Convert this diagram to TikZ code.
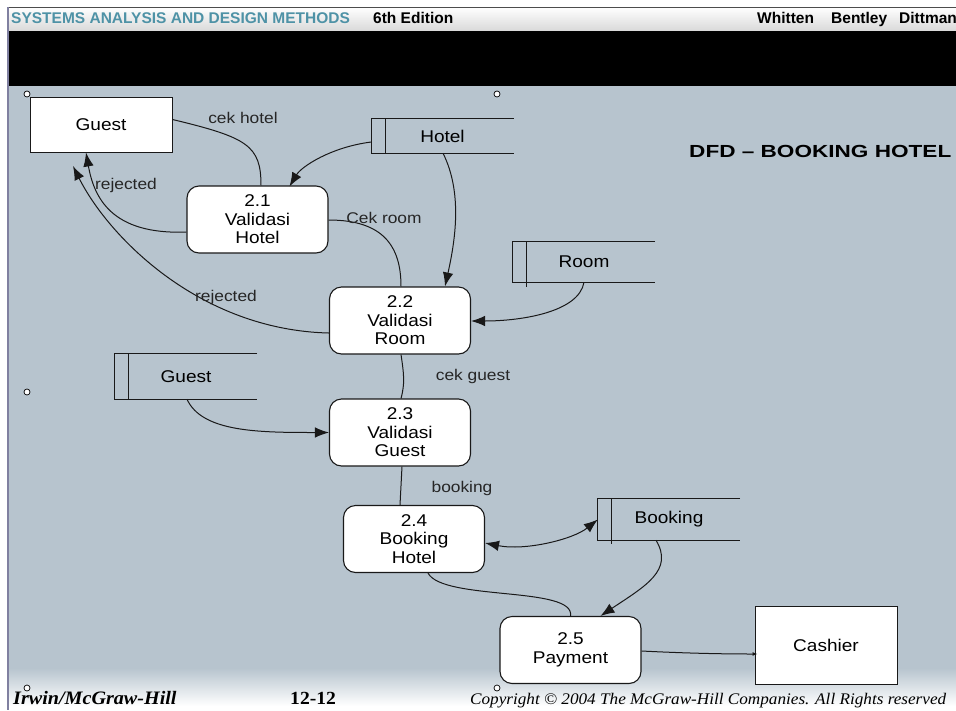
\documentclass[tikz,border=0pt]{standalone}
\usepackage{fontspec}
\setmainfont{Liberation Sans}
\newfontfamily\diagf[FakeStretch=1.12]{Liberation Sans}
\newfontfamily\titlef[FakeStretch=1.29]{Liberation Sans}
\newfontfamily\footf[FakeStretch=1.06]{Liberation Serif}
\usetikzlibrary{arrows.meta,calc}
\definecolor{slate}{RGB}{183,196,206}
\definecolor{tealhd}{RGB}{78,146,166}
\definecolor{edgec}{RGB}{25,25,25}
\definecolor{bordr}{RGB}{128,128,160}
\newcommand{\dstore}[2]{%
  \draw[edgec,line width=1pt] (#1.north east) -- (#1.north west) -- (#1.south west) -- (#1.south east);
  \draw[edgec,line width=1pt] ($(#1.north west)+(14,0)$) -- ($(#1.south west)+(14,#2)$);}
\begin{document}
\begin{tikzpicture}[x=1pt,y=-1pt,
  proc/.style={draw=edgec,line width=1.1pt,fill=white,rounded corners=12pt,minimum width=141pt,minimum height=67pt,align=center,inner sep=0pt,font=\diagf\fontsize{17}{18.5}\selectfont},
  ext/.style={draw=edgec,line width=1pt,fill=white,inner sep=0pt,font=\diagf\fontsize{17}{18.5}\selectfont},
  store/.style={inner sep=0pt,minimum width=142pt,font=\diagf\fontsize{17}{18.5}\selectfont},
  flow/.style={draw=edgec,line width=1pt},
  arr/.style={flow,-{Latex[length=14pt,width=10.5pt]}},
  lbl/.style={font=\diagf\fontsize{15.5}{16}\selectfont,text=black!85,inner sep=0pt},
  handle/.style={circle,draw=black,fill=white,line width=0.7pt,minimum size=6pt,inner sep=0pt},
  hdr/.style={anchor=base west,inner sep=0pt,font=\bfseries\fontsize{15.5}{16}\selectfont},
]
\useasboundingbox (0,0) rectangle (956,710);
\begin{scope}
\clip (0,0) rectangle (956,710);
% background
\fill[white] (0,0) rectangle (956,710);
\shade[top color=white,bottom color=black!15] (8,7) rectangle (956,31);
\fill[black] (8,31) rectangle (956,86);
\fill[slate] (8,86) rectangle (956,668);
\shade[top color=slate,bottom color=white] (8,668) rectangle (956,706);
\draw[black!70,line width=1pt] (8,7) -- (956,7);
\draw[bordr,line width=2pt] (8,7) -- (8,710);
% header
\node[hdr,text=tealhd] (h1) at (11,23) {SYSTEMS ANALYSIS AND DESIGN METHODS};
\node[hdr] (h2) at (373,23) {6th Edition};
\node[hdr] (h3) at (757,23) {Whitten};
\node[hdr] (h4) at (831,23) {Bentley};
\node[hdr] (h5) at (899,23) {Dittman};
% title
\node[anchor=base west,inner sep=0pt,font=\titlef\bfseries\fontsize{17.5}{18}\selectfont] (title) at (689,157) {DFD – BOOKING HOTEL};
% footer
\node[anchor=base west,inner sep=0pt,font=\footf\bfseries\itshape\fontsize{19}{20}\selectfont] (f1) at (13,704) {Irwin/McGraw-Hill};
\node[anchor=base west,inner sep=0pt,font=\footf\bfseries\fontsize{18.5}{20}\selectfont] (f2) at (290,704) {12-12};
\node[anchor=base west,inner sep=0pt,font=\footf\itshape\fontsize{16.2}{18}\selectfont] (f3) at (470,704) {Copyright © 2004 The McGraw-Hill Companies. All Rights reserved};
% nodes
\node[ext,minimum width=142pt,minimum height=55pt] (guest) at (101,124.5) {Guest};
\node[ext,minimum width=142pt,minimum height=78pt] (cashier) at (826,645) {Cashier};
\node[proc] (p21) at (257.5,219.5) {2.1\\Validasi\\Hotel};
\node[proc] (p22) at (400,320.5) {2.2\\Validasi\\Room};
\node[proc] (p23) at (400,432.5) {2.3\\Validasi\\Guest};
\node[proc] (p24) at (414,539) {2.4\\Booking\\Hotel};
\node[proc] (p25) at (570.5,650) {2.5\\Payment};
\node[store,minimum height=34pt] (hotel) at (442.5,136) {Hotel};
\node[store,minimum height=40pt] (room) at (584,262) {Room};
\node[store,minimum height=45pt] (gstore) at (186,376.5) {Guest};
\node[store,minimum height=41pt] (booking) at (669,519.5) {Booking};
\dstore{hotel}{0}
\dstore{room}{5}
\dstore{gstore}{0}
\dstore{booking}{4}
\coordinate (rj) at (73,166);
% connectors
\draw[flow] ($(guest.east)+(0,-5)$) .. controls +(75,18) and +(0,-40) .. ($(p21.north)+(3.5,0)$);
\draw[arr] ($(p21.west)+(0,12.5)$) .. controls +(-75,3) and +(8,45) .. ($(guest.south)+(-15,0)$);
\draw[arr] ($(p22.west)+(0,12.5)$) .. controls +(-130,-3) and +(35,70) .. (rj);
\draw[arr] ($(hotel.west)+(0,6)$) .. controls +(-40,5) and +(12,-20) .. ($(p21.north)+(32,1)$);
\draw[arr] ($(hotel.south)+(0.5,0)$) .. controls +(20,40) and +(10,-45) .. ($(p22.north)+(45,0)$);
\draw[flow] ($(p21.east)+(0,0.5)$) .. controls +(55,0) and +(0,-40) .. ($(p22.north)+(1,0)$);
\draw[arr] (room.south) .. controls +(-5,30) and +(50,0) .. ($(p22.east)+(0,0.5)$);
\draw[flow] ($(p22.south)+(1,0)$) .. controls +(3,20) and +(4,-15) .. ($(p23.north)+(1,0)$);
\draw[arr] ($(gstore.south)+(1,0)$) .. controls +(15,33) and +(-70,0) .. (p23.west);
\draw[flow] ($(p23.south)+(2,0)$) -- ($(p24.north)+(-14,0)$);
\draw[flow,{Latex[length=14pt,width=10.5pt]}-{Latex[length=14pt,width=10.5pt]}] ($(p24.east)+(0,4)$) .. controls +(40,8) and +(-25,20) .. (booking.west);
\draw[arr] ($(booking.south)+(-13,0)$) .. controls +(18,30) and +(45,-30) .. ($(p25.north)+(30,0)$);
\draw[flow] ($(p24.south)+(14,0)$) .. controls +(15,28) and +(5,-30) .. (p25.north);
\draw[flow,-{Latex[length=5pt,width=4pt]}] ($(p25.east)+(0,1)$) .. controls +(40,2) and +(-40,0) .. ($(cashier.west)+(3,9)$);
% labels
\node[lbl] (l1) at (243,118) {cek hotel};
\node[lbl] (l2) at (126,185) {rejected};
\node[lbl] (l3) at (384,218) {Cek room};
\node[lbl] (l4) at (226,297) {rejected};
\node[lbl] (l5) at (473,376) {cek guest};
\node[lbl] (l6) at (462,488) {booking};
% handles
\node[handle] (c1) at (27,94) {};
\node[handle] (c2) at (497,94) {};
\node[handle] (c3) at (27,392) {};
\node[handle] (c4) at (27,688) {};
\node[handle] (c5) at (497,688) {};
\end{scope}
\end{tikzpicture}
\end{document}
